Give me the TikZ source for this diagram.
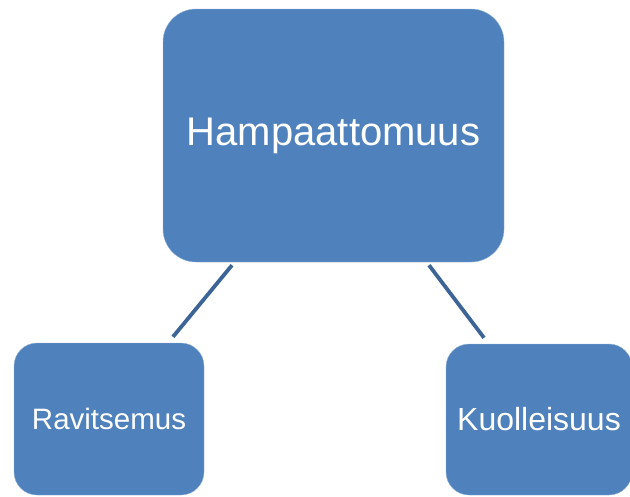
\documentclass[tikz,border=0pt]{standalone}
\usepackage{fontspec}
\setmainfont{Liberation Sans}
\usepackage{xcolor}
\usepackage{tikz}
\usetikzlibrary{calc}
\usetikzlibrary{positioning}
\definecolor{boxblue}{RGB}{79,129,189}
\definecolor{linkblue}{RGB}{60,100,150}

\begin{document}
\begin{tikzpicture}[x=1pt,y=-1pt,
		block/.style={fill=boxblue,draw=boxblue!60!white,line width=0.4pt,text=white,align=center,inner sep=0pt},
		link/.style={linkblue,line width=3.8pt}]
		\useasboundingbox (0,0) rectangle (630,496);
		\node[block,rounded corners=33pt,minimum width=341pt,minimum height=253pt,font=\fontsize{40}{44}\selectfont] (hamp) at (333.5,135.5) {Hampaattomuus};
		\node[block,rounded corners=23pt,minimum width=190pt,minimum height=152pt,font=\fontsize{29.5}{32}\selectfont] (ravi) at (109,419) {Ravitsemus};
		\node[block,rounded corners=23pt,minimum width=186pt,minimum height=151pt,font=\fontsize{32}{35}\selectfont] (kuol) at (539,419.5) {Kuolleisuus};
		\draw[link] ([xshift=-101.5pt,yshift=-3pt]hamp.south) -- ([xshift=64pt,yshift=6pt]ravi.north);
		\draw[link] ([xshift=95.5pt,yshift=-3pt]hamp.south) -- ([xshift=-55pt,yshift=6pt]kuol.north);
	\end{tikzpicture}
\end{document}
